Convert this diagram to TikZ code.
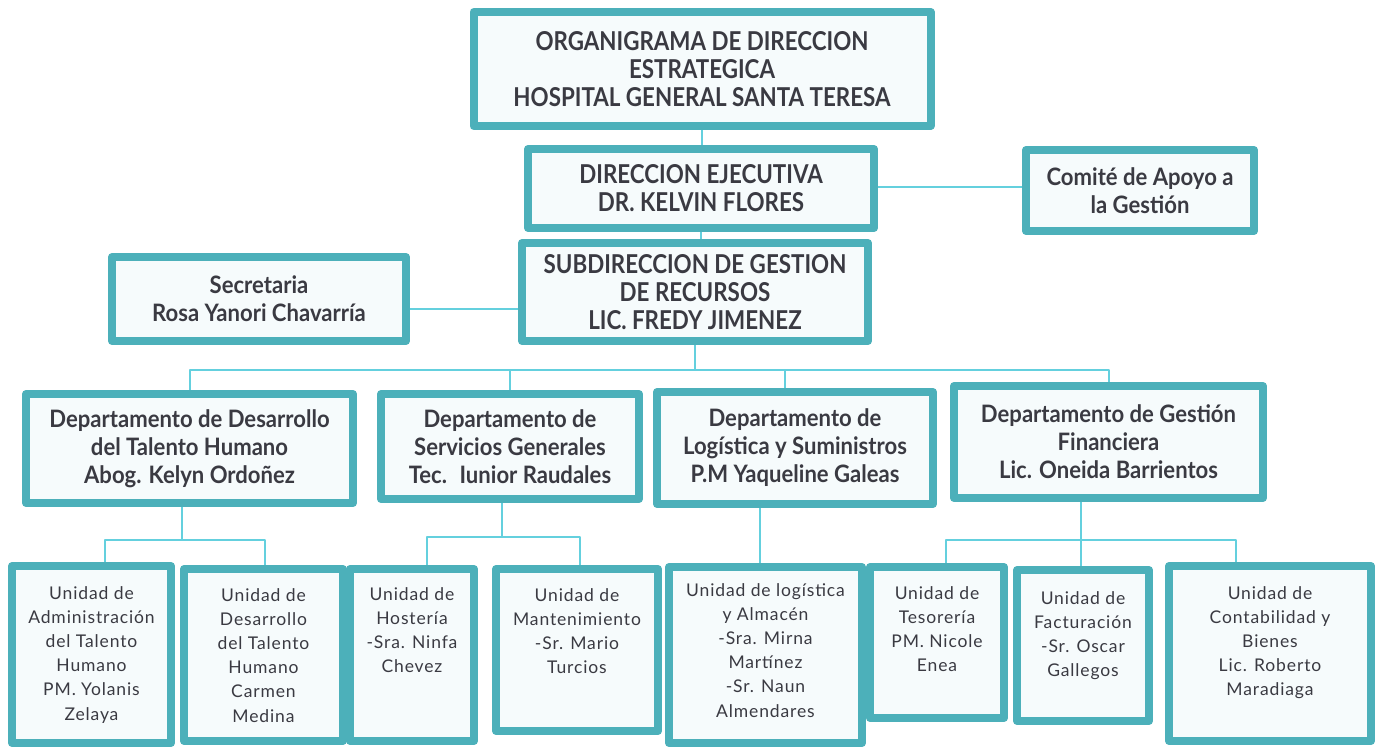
\documentclass[tikz,border=0pt]{standalone}
\usepackage{fontspec}
\setmainfont{Lato}
\newfontfamily\headfont[FakeStretch=0.86]{Lato}
\newfontfamily\deptfont[FakeStretch=0.92]{Lato}
\newfontfamily\unitfont[LetterSpace=5]{Lato}
\usetikzlibrary{positioning}
\definecolor{orgteal}{RGB}{76,176,186}
\definecolor{orglink}{RGB}{100,208,222}
\definecolor{orgfill}{RGB}{246,251,252}
\definecolor{orgtext}{RGB}{58,58,66}
\tikzset{
  orgbox/.style={draw=orgteal, line width=8pt, fill=orgfill, align=center, text=orgtext, inner sep=2pt},
  headbox/.style={orgbox, font=\headfont\bfseries\fontsize{26}{28}\selectfont},
  sidebox/.style={orgbox, font=\deptfont\bfseries\fontsize{24}{28}\selectfont},
  deptbox/.style={orgbox, font=\deptfont\bfseries\fontsize{24}{28}\selectfont},
  unittext/.style={align=center, text=orgtext, inner sep=0pt, font=\unitfont\fontsize{17.5}{24.2}\selectfont},
  link/.style={draw=orglink, line width=2pt}
}
\begin{document}
\begin{tikzpicture}[x=1pt, y=-1pt, line join=round]
  \useasboundingbox (0,0) rectangle (1377,747);
  % direccion
  \node[headbox, minimum width=457pt, minimum height=114pt] (title) at (702,69) {ORGANIGRAMA DE DIRECCION\\ESTRATEGICA\\HOSPITAL GENERAL SANTA TERESA};
  \node[headbox, minimum width=346pt, minimum height=79pt] (dir) at (701,188.5) {DIRECCION EJECUTIVA\\DR. KELVIN FLORES};
  \node[sidebox, minimum width=228pt, minimum height=81pt] (comite) at (1140,190.5) {Comité de Apoyo a\\la Gestión};
  \node[headbox, minimum width=346pt, minimum height=98pt] (subdir) at (695,292) {SUBDIRECCION DE GESTION\\DE RECURSOS\\LIC. FREDY JIMENEZ};
  \node[sidebox, minimum width=294pt, minimum height=84pt] (secre) at (259,299) {Secretaria\\Rosa Yanori Chavarría};
  % departamentos
  \foreach \n/\x/\y/\w/\h/\t in {
    dtalento/189.5/448.5/327/109/{Departamento de Desarrollo\\del Talento Humano\\Abog. Kelyn Ordoñez},
    dservicios/510/446.5/258/105/{Departamento de\\Servicios Generales\\Tec.~ Iunior Raudales},
    dlogistica/795/448/276/112/{Departamento de\\Logística y Suministros\\P.M Yaqueline Galeas},
    dfinanzas/1108.5/442/309/112/{Departamento de Gestión\\Financiera\\Lic. Oneida Barrientos}}
    \node[deptbox, minimum width=\w pt, minimum height=\h pt] (\n) at (\x,\y) {\t};
  % unidades
  \foreach \n/\x/\y/\w/\h/\d/\t in {
    uadmin/91.5/654.5/159/177/24/{Unidad de\\Administración\\del Talento\\Humano\\PM. Yolanis\\Zelaya},
    udesarrollo/263.5/655/159/172/23/{Unidad de\\Desarrollo\\del Talento\\Humano\\Carmen\\Medina},
    uhosteria/412/655/124/172/22/{Unidad de\\Hostería\\-Sra. Ninfa\\Chevez},
    umant/577/650/162/162/23/{Unidad de\\Mantenimiento\\-Sr. Mario\\Turcios},
    ualmacen/765.5/655/193/176/20/{Unidad de logística\\y Almacén\\-Sra. Mirna\\Martínez\\-Sr. Naun\\Almendares},
    utesoreria/937/642.5/134/151/23/{Unidad de\\Tesorería\\PM. Nicole\\Enea},
    ufactura/1083/645.5/132/151/25/{Unidad de\\Facturación\\-Sr. Oscar\\Gallegos},
    ucontab/1270/653.5/202/175/24/{Unidad de\\Contabilidad y\\Bienes\\Lic. Roberto\\Maradiaga}} {
    \node[orgbox, minimum width=\w pt, minimum height=\h pt] (\n) at (\x,\y) {};
    \node[unittext, below=\d pt of \n.north] (\n-t) {\t};
  }
  % conectores
  \draw[link] (title.south) -- (title.south |- dir.north);
  \draw[link] ([yshift=1.5pt]dir.east) -- ([yshift=1.5pt]dir.east -| comite.west);
  \draw[link] (dir.south) -- (dir.south |- subdir.north);
  \draw[link] ([yshift=-10pt]secre.east) -- ([yshift=-10pt]secre.east -| subdir.west);
  \coordinate (bus) at (697,370);
  \draw[link] (subdir.south) -- (subdir.south |- bus);
  \draw[link] (dtalento.north) |- (bus) -| (dfinanzas.north);
  \draw[link] (dservicios.north) -- (dservicios.north |- bus);
  \draw[link] ([xshift=-10pt]dlogistica.north) -- ([xshift=-10pt]dlogistica.north |- bus);
  \coordinate (b1) at (182,540);
  \coordinate (b1l) at (105,540);
  \coordinate (b1r) at (265,540);
  \draw[link] (b1 |- dtalento.south) -- (b1);
  \draw[link] (b1l |- uadmin.north) |- (b1r) -- (b1r |- udesarrollo.north);
  \coordinate (b2) at (502,537);
  \coordinate (b2l) at (427,537);
  \coordinate (b2r) at (580,537);
  \draw[link] (b2 |- dservicios.south) -- (b2);
  \draw[link] (b2l |- uhosteria.north) |- (b2r) -- (b2r |- umant.north);
  \draw[link] ([xshift=-5.5pt]ualmacen.north) -- ([xshift=-5.5pt]ualmacen.north |- dlogistica.south);
  \coordinate (b4) at (1081,540);
  \coordinate (b4l) at (946,540);
  \coordinate (b4r) at (1236,540);
  \draw[link] (b4 |- dfinanzas.south) -- (b4 |- ufactura.north);
  \draw[link] (b4l |- utesoreria.north) |- (b4r) -- (b4r |- ucontab.north);
\end{tikzpicture}
\end{document}
